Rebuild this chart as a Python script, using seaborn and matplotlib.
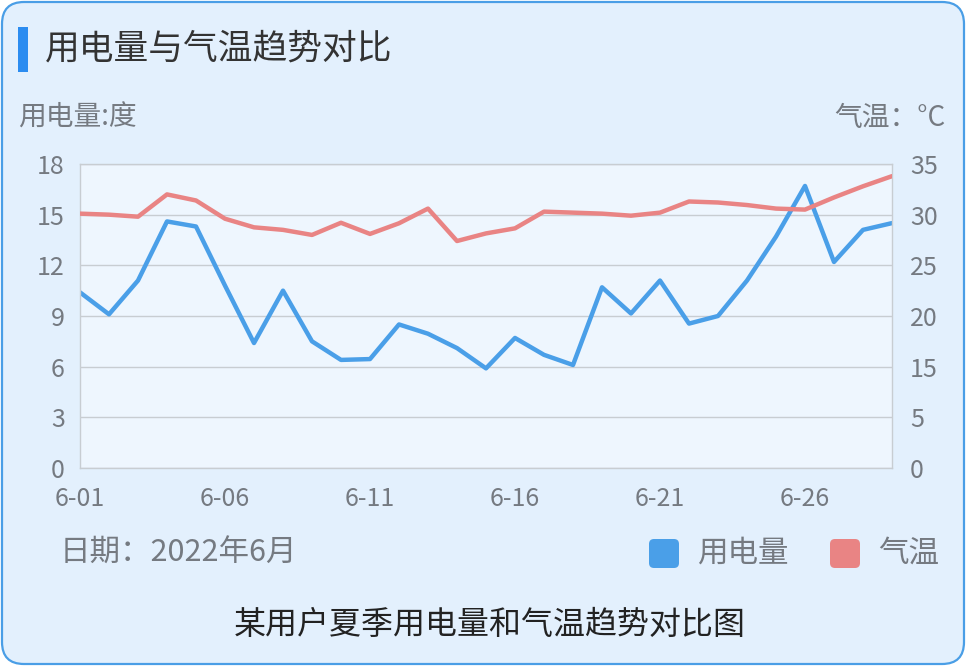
#_*_ coding:utf-8 _*_
# 用电量与气温趋势对比（双y轴折线图）
import numpy as np
import pandas as pd
import matplotlib
matplotlib.use('Agg')
import matplotlib.pyplot as plt
from matplotlib.patches import FancyBboxPatch
import seaborn as sns

# 数据：6月每日用电量（度）和气温（℃）
days = list(range(1, 30))
power = [10.4, 9.1, 11.1, 14.6, 14.3, 10.8, 7.4, 10.5, 7.5, 6.4,
         6.45, 8.5, 7.95, 7.1, 5.9, 7.7, 6.7, 6.1, 10.7, 9.15,
         11.1, 8.55, 9.0, 11.1, 13.7, 16.7, 12.2, 14.1, 14.5]
temp = [30.1, 30.0, 29.8, 32.0, 31.4, 29.6, 28.75, 28.5, 28.0, 29.2,
        28.1, 29.15, 30.6, 27.4, 28.15, 28.65, 30.3, 30.2, 30.1, 29.9,
        30.2, 31.3, 31.2, 30.95, 30.6, 30.5, 31.7, 32.8, 33.8]
xtick_days = [1, 6, 11, 16, 21, 26]
xtick_labels = ['6-01', '6-06', '6-11', '6-16', '6-21', '6-26']
left_ticks = [0, 3, 6, 9, 12, 15, 18]
right_ticks = [5, 10, 15, 20, 25, 30, 35]
right_tick_labels = ['0', '5', '15', '20', '25', '30', '35']

df = pd.DataFrame({'day': days, 'power': power, 'temp': temp})

sns.set_theme(style='white')
plt.rcParams['font.family'] = ['Noto Sans CJK SC', 'DejaVu Sans']

blue = '#4a9fe8'
red = '#e98484'
gray = '#757a81'
W, H = 967, 667

fig = plt.figure(figsize=(W / 100, H / 100), dpi=100)
fig.patch.set_facecolor('white')

# 背景卡片（像素坐标）
bg = fig.add_axes([0, 0, 1, 1], zorder=0)
bg.set_xlim(0, W)
bg.set_ylim(H, 0)
bg.axis('off')
card = FancyBboxPatch((2, 2), W - 5, H - 5, boxstyle='round,pad=0,rounding_size=22',
                      facecolor='#e3f0fd', edgecolor='#4a9ee6', linewidth=1.6)
bg.add_patch(card)
bg.add_patch(FancyBboxPatch((18, 27), 10, 45, boxstyle='square,pad=0',
                            facecolor='#2b8cf0', edgecolor='none'))
bg.text(45, 49, '用电量与气温趋势对比', fontsize=25, color='#333333', va='center', ha='left')
bg.text(18, 118, '用电量:度', fontsize=20, color=gray, va='center', ha='left')
bg.text(945, 118, '气温：°C', fontsize=20, color=gray, va='center', ha='right')
bg.text(60, 553, '日期：2022年6月', fontsize=22, color=gray, va='center', ha='left')
bg.text(490, 625, '某用户夏季用电量和气温趋势对比图', fontsize=23, color='#222222',
        va='center', ha='center')

# 图例
for x0, c, lab in [(649, blue, '用电量'), (830, red, '气温')]:
    bg.add_patch(FancyBboxPatch((x0, 539), 30, 29, boxstyle='round,pad=0,rounding_size=5',
                                facecolor=c, edgecolor='none'))
    bg.text(x0 + 48, 553, lab, fontsize=22, color=gray, va='center', ha='left')

# 主图
ax = fig.add_axes([80 / W, 1 - 468 / H, (892 - 80) / W, (468 - 164) / H], zorder=1)
ax.set_facecolor('#eef6fe')
sns.lineplot(data=df, x='day', y='power', ax=ax, color=blue, linewidth=3.2)
ax.set_xlim(1, 29)
ax.set_ylim(0, 18)
ax.set_yticks(left_ticks)
ax.set_xticks(xtick_days)
ax.set_xticklabels(xtick_labels)
ax.yaxis.grid(True, color='#c8cdd2', linewidth=1)
ax.set_axisbelow(True)
ax.set_xlabel('')
ax.set_ylabel('')
for s in ax.spines.values():
    s.set_color('#c8cdd2')
    s.set_linewidth(1)
ax.tick_params(axis='y', length=0, pad=11, labelsize=18, labelcolor=gray)
ax.tick_params(axis='x', length=0, pad=13, labelsize=18, labelcolor=gray)

ax2 = ax.twinx()
sns.lineplot(data=df, x='day', y='temp', ax=ax2, color=red, linewidth=3.2)
ax2.set_ylim(5, 35)
ax2.set_yticks(right_ticks)
ax2.set_yticklabels(right_tick_labels)
ax2.set_ylabel('')
for s in ax2.spines.values():
    s.set_visible(False)
ax2.tick_params(axis='y', length=0, pad=13, labelsize=18, labelcolor=gray)

plt.savefig('out.png', dpi=100)
